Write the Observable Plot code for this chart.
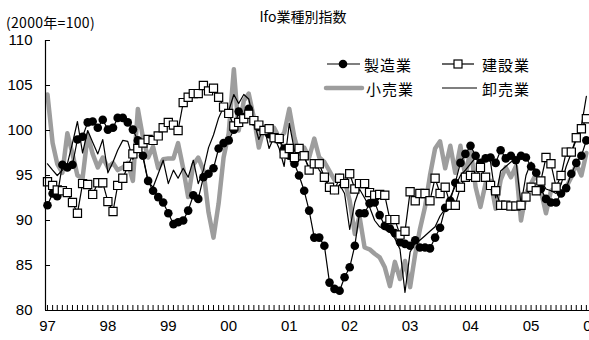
<!DOCTYPE html>
<html><head><meta charset="utf-8">
<script src="https://cdn.jsdelivr.net/npm/d3@7"></script>
<script src="https://cdn.jsdelivr.net/npm/@observablehq/plot@0.6"></script>
<style>
html,body{margin:0;padding:0;background:#fff;overflow:hidden;}
#wrap{position:relative;width:589px;height:340px;font-family:"Noto Sans CJK JP","Noto Sans",sans-serif;color:#000;}
.t{position:absolute;white-space:nowrap;line-height:1;}
#legend{position:absolute;left:0;top:0;}
</style></head><body><div id="wrap"></div>
<script>
const title = "Ifo業種別指数";
const unitLabel = "(2000年=100)";
const categories = ["製造業", "建設業", "小売業", "卸売業"];
const startYear = 1997;

// monthly values, Jan 1997 – Dec 2005
const manufacturing = [
  91.7, 93.0, 92.7, 96.2, 95.9, 96.2, 99.0, 99.3, 100.9, 101.0, 100.3, 101.2,
  100.1, 100.3, 101.4, 101.4, 100.9, 100.1, 98.9, 97.2, 94.4, 93.3, 92.6, 92.0,
  90.8, 89.6, 89.8, 90.0, 91.1, 92.8, 92.4, 94.8, 95.2, 95.8, 98.0, 98.6,
  98.9, 100.1, 102.1, 101.5, 102.4, 101.0, 100.4, 100.0, 99.6, 99.2, 99.0, 98.0,
  97.2, 96.3, 95.0, 93.3, 91.1, 88.1, 88.1, 87.2, 83.1, 82.4, 82.2, 83.7,
  84.8, 87.2, 90.8, 90.8, 91.9, 92.0, 90.6, 89.4, 89.1, 88.6, 87.6, 87.4,
  87.2, 87.8, 87.0, 87.0, 86.9, 88.1, 89.2, 91.4, 92.2, 94.2, 96.4, 97.4,
  98.3, 97.2, 96.4, 96.9, 97.0, 96.4, 97.8, 96.9, 97.2, 96.7, 97.2, 97.0,
  96.0, 95.3, 93.5, 92.4, 92.0, 92.0, 93.0, 93.6, 95.2, 96.4, 97.2, 98.9
];
const construction = [
  94.3, 93.9, 93.4, 93.3, 93.1, 92.0, 90.8, 94.1, 94.0, 92.9, 94.2, 94.2,
  92.1, 91.0, 93.9, 94.7, 96.0, 97.4, 98.0, 98.6, 99.0, 98.9, 99.4, 100.3,
  100.9, 100.6, 100.0, 103.1, 103.7, 104.1, 104.1, 105.0, 104.4, 104.7, 103.7, 102.6,
  101.9, 100.5, 100.9, 101.3, 101.8, 101.1, 100.6, 100.0, 100.2, 99.2, 99.1, 97.4,
  98.0, 97.0, 98.0, 97.2, 95.6, 96.3, 96.3, 94.8, 93.7, 93.4, 94.7, 94.1,
  95.2, 93.5, 94.1, 94.1, 93.1, 92.8, 92.9, 92.8, 90.1, 90.1, 88.4, 88.8,
  93.2, 92.2, 93.0, 93.0, 92.2, 94.7, 93.0, 93.7, 91.7, 91.7, 93.7, 94.8,
  95.0, 94.8, 95.9, 94.8, 93.9, 93.3, 91.7, 91.7, 91.6, 91.6, 91.7, 92.6,
  93.7, 93.3, 94.4, 97.0, 96.3, 93.7, 95.0, 97.6, 97.6, 99.2, 100.2, 101.3
];
const retail = [
  104.0, 98.6, 96.3, 95.3, 99.7, 97.4, 95.0, 94.7, 99.5, 97.4, 95.9, 97.0,
  95.9, 96.4, 95.6, 95.9, 96.4, 94.4, 102.4, 99.2, 97.0, 98.2, 95.8, 96.8,
  96.9, 96.9, 98.6, 95.8, 92.6, 96.2, 97.0, 95.6, 90.9, 88.1, 91.9, 97.0,
  99.7, 106.8, 100.0, 103.3, 104.1, 101.4, 98.1, 100.3, 100.0, 100.3, 99.2, 99.7,
  102.4, 99.2, 97.4, 98.1, 97.0, 99.1, 97.0, 96.5, 95.5, 94.5, 95.0, 94.5,
  92.2, 88.5, 90.5, 87.0, 86.8, 86.3, 85.9, 84.8, 82.7, 85.4, 83.5, 85.5,
  82.6, 86.3, 89.0, 91.5, 95.0, 98.0, 98.8, 95.8, 98.3, 95.3, 98.3, 94.8,
  98.0, 93.7, 91.5, 94.1, 94.4, 91.3, 94.5, 95.9, 94.8, 96.0, 90.0, 93.0,
  94.1, 95.2, 93.3, 90.8, 93.3, 93.7, 93.0, 93.7, 94.8, 96.3, 95.0, 97.5
];
const wholesale = [
  96.3, 95.6, 95.0, 95.6, 96.3, 98.6, 101.0, 97.5, 100.0, 98.7, 97.4, 99.0,
  95.3, 96.5, 97.8, 98.9, 98.8, 96.8, 97.8, 97.0, 94.3, 93.7, 95.2, 96.7,
  94.1, 95.6, 94.7, 95.8, 94.8, 96.7, 94.1, 95.6, 98.1, 99.5, 101.4, 102.6,
  102.2, 104.0, 103.0, 104.0, 103.5, 101.0, 99.0, 100.5, 98.0, 99.3, 98.0, 96.0,
  100.8, 97.8, 96.7, 97.0, 95.9, 96.7, 95.6, 94.8, 93.5, 93.0, 94.0, 93.0,
  89.0, 92.0, 93.5, 92.5, 91.5, 90.0, 89.3, 89.0, 88.7, 88.0, 86.8, 82.0,
  86.5, 87.5, 87.8, 88.3, 88.8, 89.3, 90.5, 91.3, 92.6, 93.8, 95.0, 95.6,
  96.3, 97.0, 96.0, 97.3, 96.5, 92.5, 95.5, 96.0, 96.5, 96.8, 91.8, 95.0,
  96.5, 95.5, 94.5, 93.5, 93.3, 93.0, 94.0, 96.0, 97.5, 99.0, 100.5, 103.8
];
const yTicks = [80, 85, 90, 95, 100, 105, 110];
const xTickYears = [1997, 1998, 1999, 2000, 2001, 2002, 2003, 2004, 2005, 2006];
const xTickLabels = ["97", "98", "99", "00", "01", "02", "03", "04", "05", "06"];

const W = 589, H = 340, mL = 45, mR = -2, mT = 40, mB = 30;
const plotW = W - mL - mR, plotH = H - mT - mB;
const font = '"Noto Sans CJK JP","Noto Sans",sans-serif';
const digitFont = '"Liberation Sans","Noto Sans CJK JP",sans-serif';

const dates = manufacturing.map((_, i) => new Date(Date.UTC(startYear, i, 1)));
const rows = vals => vals.map((v, i) => ({date: dates[i], value: v}));
const xStart = new Date(Date.UTC(startYear - 1, 11, 20));
const xEnd = new Date(Date.UTC(xTickYears[xTickYears.length - 1], 0, 1));
const xTickDates = xTickYears.map(y => new Date(Date.UTC(y, 0, 1)));
const months = d3.utcMonth.range(xTickDates[0], new Date(xEnd.getTime() + 1));

const chart = Plot.plot({
  width: W, height: H,
  marginLeft: mL, marginRight: mR, marginTop: mT, marginBottom: mB,
  style: {fontFamily: digitFont, fontSize: "14px", background: "transparent", color: "#000", overflow: "visible"},
  x: {type: "utc", domain: [xStart, xEnd]},
  y: {domain: [yTicks[0], yTicks[yTicks.length - 1]]},
  marks: [
    Plot.line(rows(retail), {x: "date", y: "value", stroke: "#9d9d9d", strokeWidth: 4.5}),
    Plot.line(rows(wholesale), {x: "date", y: "value", stroke: "#000", strokeWidth: 1.2}),
    Plot.line(rows(manufacturing), {x: "date", y: "value", stroke: "#000", strokeWidth: 1.2}),
    Plot.dot(rows(manufacturing), {x: "date", y: "value", r: 4.3, fill: "#000", stroke: "none"}),
    Plot.line(rows(construction), {x: "date", y: "value", stroke: "#000", strokeWidth: 1.2}),
    Plot.dot(rows(construction), {x: "date", y: "value", symbol: "square", r: 4.6, fill: "#fff", stroke: "#000", strokeWidth: 1.2}),
    Plot.ruleX([xStart], {stroke: "#000", strokeWidth: 1.2}),
    Plot.ruleY([yTicks[0]], {stroke: "#000", strokeWidth: 1.2}),
    Plot.tickX(months, {x: d => d, insetTop: plotH - 5, stroke: "#000"}),
    Plot.tickY(yTicks, {y: d => d, insetRight: plotW - 5, stroke: "#000"}),
    Plot.axisY({ticks: yTicks, tickSize: 0, tickPadding: 13, label: null, fontSize: 15, tickFormat: d => String(d)}),
    Plot.axisX({ticks: xTickDates, tickSize: 0, tickPadding: 10, label: null, fontSize: 15,
      tickFormat: d => xTickLabels[xTickYears.indexOf(d.getUTCFullYear())]})
  ]
});
chart.style.position = "absolute";
chart.style.left = "0px";
chart.style.top = "0px";
chart.style.maxWidth = "none";

const wrap = document.getElementById("wrap");
wrap.appendChild(chart);

function addText(txt, left, top, size, extra) {
  const d = document.createElement("div");
  d.className = "t";
  d.textContent = txt;
  d.style.left = left + "px";
  d.style.top = top + "px";
  d.style.fontSize = size + "px";
  if (extra) Object.assign(d.style, extra);
  wrap.appendChild(d);
  return d;
}
addText(title, 0, 9, 14, {width: "606px", textAlign: "center"});
addText(unitLabel, 6, 15, 14, {letterSpacing: "0.3px"});

// legend
const ns = "http://www.w3.org/2000/svg";
const lg = document.createElementNS(ns, "svg");
lg.setAttribute("width", W); lg.setAttribute("height", 110);
lg.id = "legend";
function el(tag, attrs) {
  const e = document.createElementNS(ns, tag);
  for (const k in attrs) e.setAttribute(k, attrs[k]);
  lg.appendChild(e); return e;
}
el("line", {x1: 327, x2: 360, y1: 64, y2: 64, stroke: "#000", "stroke-width": 1.2});
el("circle", {cx: 343, cy: 64, r: 4.3, fill: "#000"});
el("line", {x1: 442, x2: 474, y1: 64, y2: 64, stroke: "#000", "stroke-width": 1.2});
el("rect", {x: 454, y: 60, width: 8, height: 8, fill: "#fff", stroke: "#000", "stroke-width": 1.2});
el("line", {x1: 326, x2: 362, y1: 88, y2: 88, stroke: "#9d9d9d", "stroke-width": 4.5, "stroke-linecap": "round"});
el("line", {x1: 442, x2: 477, y1: 88, y2: 88, stroke: "#000", "stroke-width": 1.2});
const lpos = [[364, 64], [482, 64], [366, 88], [482, 88]];
categories.forEach((c, i) => {
  const t = el("text", {x: lpos[i][0], y: lpos[i][1], "dominant-baseline": "central", "font-size": 15,
    "font-family": font, "letter-spacing": 1});
  t.textContent = c;
});
wrap.appendChild(lg);
</script>
</body></html>
